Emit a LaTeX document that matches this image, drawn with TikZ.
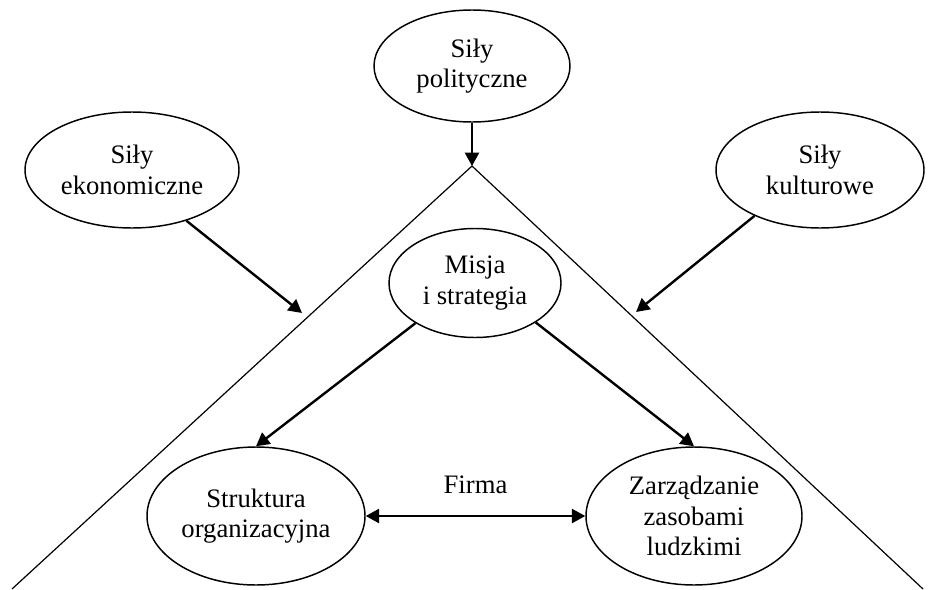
\documentclass[tikz,border=0pt]{standalone}
\usepackage{fontspec}
\setmainfont{Liberation Serif}
\usetikzlibrary{arrows.meta,calc,shapes.geometric}
\tikzset{%
	force/.style    = {draw, ellipse, line width=1.1pt, inner sep=0pt, align=center, font=\fontsize{20pt}{23pt}\selectfont}, % Sily
	textlabel/.style = {inner sep=0pt, font=\fontsize{20pt}{23pt}\selectfont}, % Label
	link/.style     = {-{Triangle[length=10pt,width=10.5pt]}, line width=1.8pt}, % Arrow
	both/.style     = {{Triangle[length=10pt,width=10.5pt]}-{Triangle[length=10pt,width=10.5pt]}, line width=1.8pt},
	wedge/.style    = {line width=0.9pt}, % Triangle
	waypoint/.style = {coordinate},
}

\begin{document}
\begin{tikzpicture}[x=0.75pt, y=-0.75pt]
		\useasboundingbox (0,0) rectangle (928,589);
		\node[force, minimum width=147pt, minimum height=84pt] (pol) at (472,66) {Siły\\polityczne};
		\node[force, minimum width=160.5pt, minimum height=87pt] (ekon) at (132,170) {Siły\\ekonomiczne};
		\node[force, minimum width=156pt, minimum height=87pt] (kult) at (820,170) {Siły\\kulturowe};
		\node[force, minimum width=129pt, minimum height=81.75pt] (misja) at (475,283) {Misja\\i strategia};
		\node[force, minimum width=163.5pt, minimum height=103.5pt] (strukt) at (256,516) {Struktura\\organizacyjna};
		\node[force, minimum width=162pt, minimum height=103.5pt] (zarz) at (694,516) {Zarządzanie\\zasobami\\ludzkimi};
		\node[waypoint] (apex) at (472,166) {};
		\node[waypoint] (bl) at (12,589) {};
		\node[waypoint] (br) at (923,589) {};
		\node[waypoint] (ekontip) at (302,313) {};
		\node[waypoint] (kulttip) at (636,312) {};
		\draw[wedge] (bl) -- (apex) -- (br);
		\draw[link] (pol) -- (apex);
		\draw[link] (ekon.-43) -- (ekontip);
		\draw[link] (kult.215) -- (kulttip);
		\draw[link] (misja.214) -- (strukt.north);
		\draw[link] (misja.-33) -- (zarz.north);
		\draw[both] (strukt) -- node[textlabel, above=15.5pt] (firma) {Firma} (zarz);
		\end{tikzpicture}
\end{document}
